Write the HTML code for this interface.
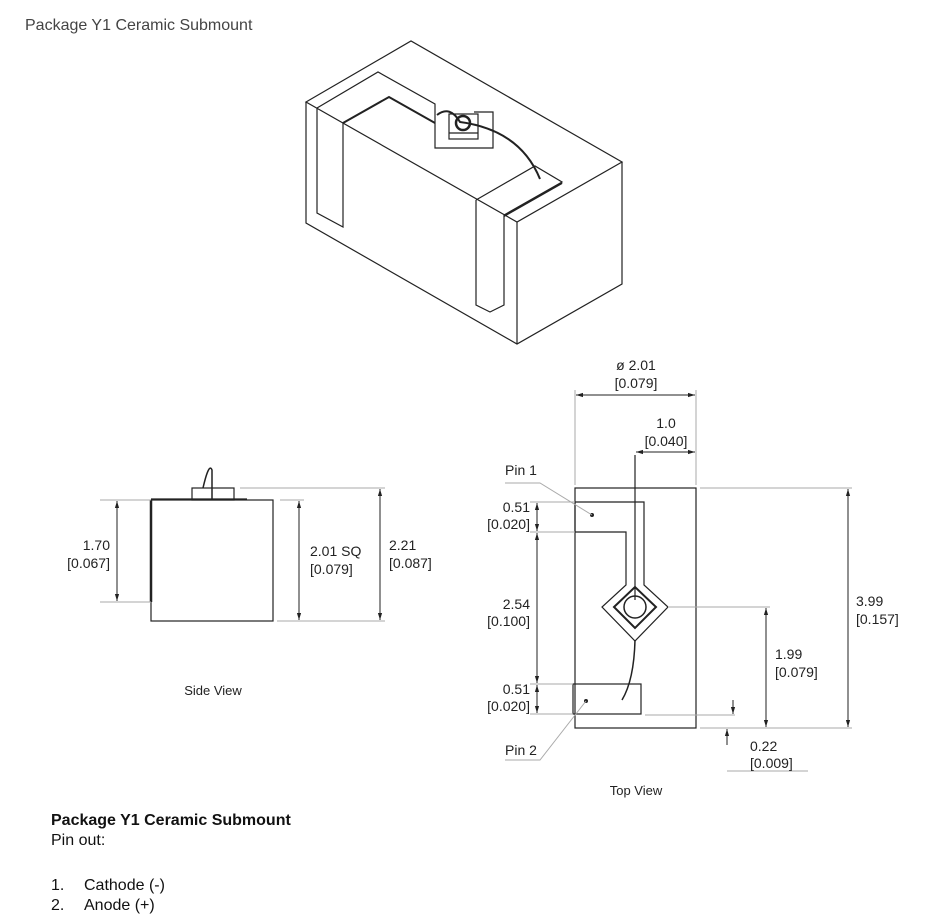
<!DOCTYPE html>
<html><head><meta charset="utf-8"><style>
body{margin:0;background:#fff;width:951px;height:915px;overflow:hidden;font-family:"Liberation Sans",sans-serif;}
svg{position:absolute;left:0;top:0}
</style></head><body>
<svg width="951" height="915" viewBox="0 0 951 915" font-family="Liberation Sans, sans-serif" font-size="14" fill="#222">
<defs>
<marker id="a" viewBox="0 0 10 10" refX="10" refY="5" markerWidth="7" markerHeight="7" orient="auto-start-reverse"><path d="M0,2 L10,5 L0,8 z" fill="#222"/></marker>
</defs>
<text x="25" y="30" font-size="16" fill="#444">Package Y1 Ceramic Submount</text>

<!-- isometric -->
<g fill="none" stroke="#222" stroke-width="1.2">
<path d="M306,102 L411,41 L622,162 L517,222 L306,102 Z"/>
<path d="M306,102 L306,223 L517,344 L622,284 L622,162"/>
<path d="M517,222 L517,344"/>
<path d="M317,108 L317,213 L343,227 L343,123"/>
<path d="M317,108 L378,72 L435,104 L435,148 L493,148 L493,112 L474,112"/>
<path d="M343,123 L389,97 L435,123" stroke-width="2"/>
<rect x="449" y="114" width="29" height="25"/>
<line x1="449" y1="133" x2="478" y2="133"/>
<circle cx="463" cy="123" r="7" stroke-width="2.5"/>
<path d="M437,115 Q450,105 460,122 Q520,130 540,179" stroke-width="2"/>
<path d="M476,200 L535,166 L562,182 L504,215"/>
<path d="M504,216 L562,183" stroke-width="2"/>
<path d="M476,200 L476,305 L490,312 L504,305 L504,215"/>
</g>

<!-- side view -->
<g fill="none" stroke="#222" stroke-width="1.2">
<rect x="151" y="500" width="122" height="121"/>
<line x1="151" y1="500" x2="151" y2="602" stroke-width="2.5"/>
<line x1="151" y1="499" x2="247" y2="499"/>
<rect x="192" y="488" width="42" height="12"/>
<path d="M212,500 L212,470 Q209,462 203,488" stroke-width="1.5"/>
</g>
<g stroke="#aaa" stroke-width="1">
<line x1="100" y1="500" x2="151" y2="500"/><line x1="100" y1="602" x2="151" y2="602"/>
<line x1="280" y1="500" x2="304" y2="500"/><line x1="277" y1="621" x2="385" y2="621"/>
<line x1="240" y1="488" x2="385" y2="488"/>
</g>
<g stroke="#222" stroke-width="1" marker-start="url(#a)" marker-end="url(#a)">
<line x1="117" y1="501" x2="117" y2="601"/>
<line x1="299" y1="501" x2="299" y2="620"/>
<line x1="380" y1="489" x2="380" y2="620"/>
</g>
<text x="110" y="550" text-anchor="end">1.70</text><text x="110" y="568" text-anchor="end">[0.067]</text>
<text x="310" y="556">2.01 SQ</text><text x="310" y="574">[0.079]</text>
<text x="389" y="550">2.21</text><text x="389" y="568">[0.087]</text>
<text x="213" y="695" text-anchor="middle" font-size="13">Side View</text>

<!-- top view -->
<g fill="none" stroke="#222" stroke-width="1.2">
<rect x="575" y="488" width="121" height="240"/>
<path d="M575,502 L644,502 L644,585 L668,607 L635,641 L602,607 L626,585 L626,532 L575,532 Z"/>
<path d="M614,607 L635,587 L656,607 L635,628 Z" stroke-width="2"/>
<circle cx="635" cy="607" r="11" stroke-width="1.5"/>
<rect x="573" y="684" width="68" height="30"/>
<path d="M635,640 Q634,680 622,700" stroke-width="1.5"/>
<line x1="635" y1="455" x2="635" y2="600"/>
</g>
<circle cx="592" cy="515" r="2" fill="#222"/><circle cx="586" cy="701" r="2" fill="#222"/>
<g stroke="#aaa" stroke-width="1" fill="none">
<line x1="575" y1="390" x2="575" y2="485"/><line x1="696" y1="390" x2="696" y2="485"/>
<line x1="700" y1="488" x2="852" y2="488"/><line x1="700" y1="728" x2="852" y2="728"/>
<line x1="668" y1="607" x2="770" y2="607"/>
<line x1="645" y1="715" x2="735" y2="715"/>
<line x1="530" y1="502" x2="575" y2="502"/><line x1="530" y1="532" x2="575" y2="532"/>
<line x1="530" y1="684" x2="573" y2="684"/><line x1="530" y1="714" x2="573" y2="714"/>
<path d="M505,483 L540,483 L592,515"/>
<path d="M505,760 L540,760 L586,701"/>
<line x1="727" y1="771" x2="808" y2="771"/>
</g>
<g stroke="#222" stroke-width="1" marker-start="url(#a)" marker-end="url(#a)">
<line x1="576" y1="395" x2="695" y2="395"/>
<line x1="636" y1="452" x2="695" y2="452"/>
<line x1="848" y1="489" x2="848" y2="727"/>
<line x1="766" y1="608" x2="766" y2="727"/>
<line x1="537" y1="503" x2="537" y2="531"/>
<line x1="537" y1="533" x2="537" y2="683"/>
<line x1="537" y1="685" x2="537" y2="713"/>
</g>
<g stroke="#222" stroke-width="1">
<line x1="733" y1="700" x2="733" y2="714" marker-end="url(#a)"/>
<line x1="727" y1="745" x2="727" y2="729" marker-end="url(#a)"/>
</g>
<text x="636" y="370" text-anchor="middle">ø 2.01</text><text x="636" y="388" text-anchor="middle">[0.079]</text>
<text x="666" y="428" text-anchor="middle">1.0</text><text x="666" y="446" text-anchor="middle">[0.040]</text>
<text x="505" y="475">Pin 1</text>
<text x="505" y="755">Pin 2</text>
<text x="530" y="512" text-anchor="end">0.51</text><text x="530" y="529" text-anchor="end">[0.020]</text>
<text x="530" y="609" text-anchor="end">2.54</text><text x="530" y="626" text-anchor="end">[0.100]</text>
<text x="530" y="694" text-anchor="end">0.51</text><text x="530" y="711" text-anchor="end">[0.020]</text>
<text x="775" y="659">1.99</text><text x="775" y="677">[0.079]</text>
<text x="856" y="606">3.99</text><text x="856" y="624">[0.157]</text>
<text x="750" y="751">0.22</text><text x="750" y="768">[0.009]</text>
<text x="636" y="795" text-anchor="middle" font-size="13">Top View</text>

<text x="51" y="825" font-size="16" font-weight="bold" fill="#111">Package Y1 Ceramic Submount</text>
<text x="51" y="845" font-size="16" fill="#111">Pin out:</text>
<text x="51" y="890" font-size="16" fill="#111">1.</text><text x="84" y="890" font-size="16" fill="#111">Cathode (-)</text>
<text x="51" y="910" font-size="16" fill="#111">2.</text><text x="84" y="910" font-size="16" fill="#111">Anode (+)</text>
</svg>
</body></html>
